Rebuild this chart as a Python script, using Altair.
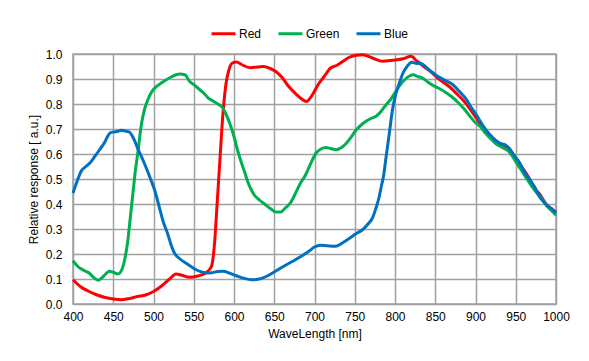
import altair as alt
import pandas as pd

series_names = ["Red", "Green", "Blue"]
series_colors = ["#FF0000", "#00B050", "#0070C0"]

x_ticks = [400, 450, 500, 550, 600, 650, 700, 750, 800, 850, 900, 950, 1000]
y_ticks = [0.0, 0.1, 0.2, 0.3, 0.4, 0.5, 0.6, 0.7, 0.8, 0.9, 1.0]

red_nm = [400, 410, 420, 430, 440, 450, 460, 470, 480, 490, 500, 510, 520, 528, 535,
          545, 555, 565, 572, 576, 579, 582, 586, 590, 594, 598, 603, 610, 620, 630,
          637, 645, 652, 660, 668, 677, 684, 690, 697, 705, 712, 720, 728, 735, 742,
          752, 760, 772, 785, 797, 810, 820, 827, 835, 845, 852, 860, 868, 877, 885,
          893, 901, 908, 914, 922, 930, 936, 941, 947, 953, 960, 966, 972, 980, 988,
          995, 1000]
red_val = [0.097, 0.068, 0.050, 0.036, 0.026, 0.020, 0.017, 0.022, 0.030, 0.036, 0.050,
           0.072, 0.100, 0.120, 0.115, 0.107, 0.112, 0.125, 0.150, 0.250, 0.400, 0.550,
           0.750, 0.880, 0.940, 0.964, 0.968, 0.957, 0.945, 0.948, 0.950, 0.942, 0.930,
           0.905, 0.870, 0.840, 0.820, 0.810, 0.835, 0.880, 0.910, 0.944, 0.955, 0.970,
           0.985, 0.995, 0.997, 0.984, 0.971, 0.975, 0.981, 0.991, 0.972, 0.952, 0.928,
           0.907, 0.887, 0.868, 0.840, 0.814, 0.781, 0.744, 0.712, 0.684, 0.659, 0.640,
           0.631, 0.625, 0.596, 0.567, 0.537, 0.507, 0.468, 0.438, 0.398, 0.378, 0.368]

green_nm = [400, 406, 412, 420, 426, 431, 436, 440, 445, 450, 456, 461, 465, 468, 471,
            474, 477, 481, 485, 489, 493, 498, 504, 510, 516, 522, 528, 533, 539, 545,
            550, 555, 562, 568, 574, 580, 586, 590, 595, 600, 604, 608, 613, 617, 621,
            625, 632, 639, 646, 652, 658, 664, 670, 676, 682, 689, 695, 702, 708, 714,
            720, 727, 733, 738, 745, 752, 758, 764, 770, 777, 783, 789, 795, 800, 806,
            812, 818, 823, 828, 834, 840, 848, 856, 864, 872, 879, 886, 893, 900, 906,
            912, 918, 925, 931, 937, 941, 946, 951, 957, 964, 970, 976, 982, 988, 994,
            1000]
green_val = [0.173, 0.150, 0.137, 0.124, 0.105, 0.095, 0.105, 0.118, 0.131, 0.127, 0.120,
             0.140, 0.190, 0.250, 0.340, 0.430, 0.520, 0.617, 0.720, 0.780, 0.817, 0.850,
             0.871, 0.885, 0.897, 0.908, 0.917, 0.920, 0.917, 0.890, 0.878, 0.864, 0.845,
             0.824, 0.812, 0.800, 0.784, 0.760, 0.720, 0.670, 0.620, 0.577, 0.530, 0.490,
             0.460, 0.437, 0.415, 0.397, 0.380, 0.368, 0.368, 0.385, 0.404, 0.440, 0.480,
             0.517, 0.560, 0.604, 0.620, 0.626, 0.622, 0.617, 0.625, 0.638, 0.665, 0.697,
             0.716, 0.731, 0.742, 0.752, 0.772, 0.797, 0.820, 0.845, 0.875, 0.897, 0.912,
             0.917, 0.910, 0.904, 0.890, 0.873, 0.860, 0.844, 0.825, 0.804, 0.780, 0.751,
             0.725, 0.710, 0.685, 0.664, 0.642, 0.630, 0.620, 0.611, 0.590, 0.564, 0.535,
             0.500, 0.470, 0.445, 0.425, 0.395, 0.375, 0.355]

blue_nm = [400, 405, 410, 416, 421, 427, 433, 439, 443, 446, 450, 455, 460, 465, 470,
           474, 477, 480, 483, 487, 491, 496, 501, 507, 512, 518, 522, 526, 533, 541,
           548, 553, 560, 566, 572, 580, 587, 594, 603, 612, 622, 630, 640, 648, 656,
           664, 673, 683, 693, 700, 708, 716, 726, 735, 743, 751, 760, 767, 772, 776,
           780, 783, 786, 789, 793, 797, 801, 806, 810, 815, 821, 827, 831, 835, 843,
           852, 862, 872, 880, 889, 895, 901, 909, 918, 926, 933, 937, 943, 949, 955,
           962, 968, 974, 978, 983, 988, 994, 1000]
blue_val = [0.444, 0.490, 0.530, 0.550, 0.564, 0.590, 0.617, 0.645, 0.670, 0.684, 0.688,
            0.690, 0.695, 0.692, 0.688, 0.670, 0.650, 0.625, 0.604, 0.575, 0.544, 0.503,
            0.460, 0.390, 0.330, 0.277, 0.235, 0.204, 0.180, 0.162, 0.147, 0.137, 0.128,
            0.124, 0.125, 0.130, 0.131, 0.124, 0.113, 0.103, 0.097, 0.099, 0.110, 0.124,
            0.140, 0.155, 0.171, 0.190, 0.211, 0.228, 0.235, 0.233, 0.231, 0.245, 0.262,
            0.280, 0.298, 0.322, 0.344, 0.380, 0.424, 0.470, 0.517, 0.590, 0.684, 0.780,
            0.840, 0.890, 0.924, 0.950, 0.967, 0.962, 0.963, 0.957, 0.935, 0.913, 0.895,
            0.877, 0.850, 0.817, 0.785, 0.757, 0.715, 0.677, 0.652, 0.640, 0.637, 0.617,
            0.590, 0.564, 0.520, 0.495, 0.465, 0.437, 0.415, 0.397, 0.383, 0.364]

rows = []
for idx, (name, nms, vals) in enumerate([("Red", red_nm, red_val),
                                         ("Green", green_nm, green_val),
                                         ("Blue", blue_nm, blue_val)]):
    for n, v in zip(nms, vals):
        rows.append({"nm": n, "val": v, "series": name, "k": idx})
df = pd.DataFrame(rows)

FONT = "Liberation Sans"
GRID = "#A0A0A0"

common_axis = dict(grid=True, gridColor=GRID, gridWidth=1.5, gridOpacity=1,
                   domain=False, ticks=False, labelFlush=False, labelOverlap=False,
                   labelFont=FONT, labelFontSize=12, labelColor="#000000",
                   titleFont=FONT, titleFontSize=12, titleFontWeight="normal",
                   titleColor="#000000")

chart = alt.Chart(df).mark_line(strokeWidth=3, interpolate="monotone").encode(
    x=alt.X("nm:Q",
            scale=alt.Scale(domain=[400, 1000], nice=False, zero=False),
            axis=alt.Axis(values=x_ticks, title="WaveLength [nm]", format="d",
                          labelPadding=7, titlePadding=6, **common_axis)),
    y=alt.Y("val:Q",
            scale=alt.Scale(domain=[0, 1], nice=False),
            axis=alt.Axis(values=y_ticks, format=".1f", title="Relative response [ a.u.]",
                          labelPadding=11, titlePadding=5, **common_axis)),
    color=alt.Color("series:N",
                    scale=alt.Scale(domain=series_names, range=series_colors),
                    sort=series_names,
                    legend=alt.Legend(title=None, orient="none", direction="horizontal",
                                      legendX=137, legendY=-34, symbolType="stroke",
                                      symbolStrokeWidth=3, symbolSize=576,
                                      labelOffset=2, columnPadding=10, padding=0,
                                      labelFontSize=12, labelFont=FONT, labelColor="#000000")),
    detail="k:O",
).properties(
    width=483,
    height=250,
    background="white",
    padding={"left": 65, "top": 46, "right": 20, "bottom": 50},
    autosize=alt.AutoSizeParams(type="none"),
).configure_view(
    stroke=GRID, strokeWidth=1.5
).configure_axis(
    grid=True, gridColor=GRID, gridWidth=1.5, gridOpacity=1, tickSize=0
)

chart.save("out.html", embed_options={"renderer": "svg", "actions": False})
